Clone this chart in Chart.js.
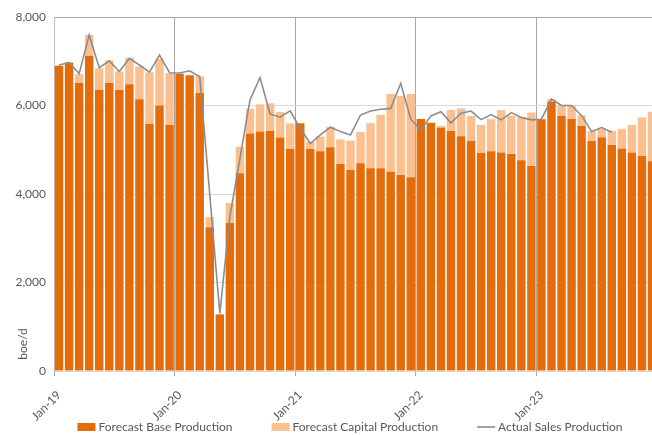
<!DOCTYPE html>
<html>
<head>
<meta charset="utf-8">
<script src="https://cdn.jsdelivr.net/npm/chart.js@4/dist/chart.umd.min.js"></script>
<style>
  html, body { margin: 0; padding: 0; background: #fff; overflow: hidden; }
  #wrap { width: 700px; height: 435px; }
</style>
</head>
<body>
<div id="wrap"><canvas id="chart" width="700" height="435"></canvas></div>
<script>
const months = [
  'Jan-19','Feb-19','Mar-19','Apr-19','May-19','Jun-19','Jul-19','Aug-19','Sep-19','Oct-19','Nov-19','Dec-19',
  'Jan-20','Feb-20','Mar-20','Apr-20','May-20','Jun-20','Jul-20','Aug-20','Sep-20','Oct-20','Nov-20','Dec-20',
  'Jan-21','Feb-21','Mar-21','Apr-21','May-21','Jun-21','Jul-21','Aug-21','Sep-21','Oct-21','Nov-21','Dec-21',
  'Jan-22','Feb-22','Mar-22','Apr-22','May-22','Jun-22','Jul-22','Aug-22','Sep-22','Oct-22','Nov-22','Dec-22',
  'Jan-23','Feb-23','Mar-23','Apr-23','May-23','Jun-23','Jul-23','Aug-23','Sep-23','Oct-23','Nov-23','Dec-23'
];

const baseProduction = [
  6900, 6970, 6510, 7125, 6350, 6510, 6350, 6480, 6140, 5580, 6000, 5560,
  6715, 6685, 6285, 3250, 1280, 3345, 4470, 5365, 5415, 5425, 5275, 5015,
  5600, 5015, 4965, 5055, 4680, 4540, 4695, 4580, 4580, 4505, 4430, 4380,
  5695, 5610, 5495, 5425, 5305, 5195, 4925, 4965, 4940, 4905, 4760, 4635,
  5690, 6085, 5770, 5695, 5535, 5200, 5285, 5110, 5030, 4940, 4860, 4740
];

const capitalProduction = [
  0, 0, 200, 470, 490, 510, 420, 600, 745, 1170, 1050, 1175,
  0, 0, 375, 225, 0, 450, 600, 560, 610, 625, 580, 580,
  0, 165, 330, 465, 555, 665, 710, 1020, 1205, 1755, 1790, 1880,
  0, 0, 45, 475, 630, 570, 635, 725, 955, 865, 985, 1205,
  0, 60, 230, 305, 245, 220, 180, 320, 435, 620, 870, 1120
];

const actualSales = [
  6915, 6970, 6720, 7595, 6855, 7010, 6770, 7065, 6915, 6755, 7140, 6740,
  6735, 6785, 6650, 3980, 1300, 3490, 4800, 6125, 6630, 5810, 5735, 5880,
  5480, 5140, 5335, 5510, 5410, 5335, 5785, 5875, 5915, 5935, 6500, 5690,
  5445, 5765, 5860, 5610, 5825, 5875, 5680, 5795, 5675, 5840, 5730, 5675,
  5690, 6145, 6000, 6000, 5770, 5410, 5500, 5395, null, null, null, null
];

const yTicks = [0, 2000, 4000, 6000, 8000];

const textColor = '#595959';
const fontFamily = 'Lato, "Liberation Sans", sans-serif';
const numberFormat = new Intl.NumberFormat('en-US');

const yAxisTitle = {
  id: 'yAxisTitle',
  afterDraw(chart) {
    const { ctx, chartArea } = chart;
    ctx.save();
    ctx.translate(23, chartArea.bottom - 27);
    ctx.rotate(-Math.PI / 2);
    ctx.font = '12px ' + fontFamily;
    ctx.fillStyle = textColor;
    ctx.textAlign = 'center';
    ctx.textBaseline = 'middle';
    ctx.fillText('boe/d', 0, 0);
    ctx.restore();
  }
};

// legend drawn by hand so it can sit below the rotated month labels
const bottomLegend = {
  id: 'bottomLegend',
  afterDraw(chart) {
    const { ctx } = chart;
    const marker = 18, gap = 3, spacing = 39;
    const y = chart.height - 8;
    ctx.save();
    ctx.font = '12px ' + fontFamily;
    ctx.textBaseline = 'middle';
    const items = chart.data.datasets.map(ds => ({
      ds,
      width: marker + gap + ctx.measureText(ds.label).width
    }));
    const total = items.reduce((sum, it) => sum + it.width, 0) + spacing * (items.length - 1);
    let x = chart.width / 2 - total / 2;
    items.forEach(({ ds, width }) => {
      if (ds.type === 'line') {
        ctx.strokeStyle = ds.borderColor;
        ctx.lineWidth = ds.borderWidth;
        ctx.beginPath();
        ctx.moveTo(x, y);
        ctx.lineTo(x + marker, y);
        ctx.stroke();
      } else {
        ctx.fillStyle = ds.backgroundColor;
        ctx.fillRect(x, y - 4, marker, 8);
      }
      ctx.fillStyle = textColor;
      ctx.fillText(ds.label, x + marker + gap, y);
      x += width + spacing;
    });
    ctx.restore();
  }
};

new Chart(document.getElementById('chart'), {
  type: 'bar',
  data: {
    labels: months,
    datasets: [
      {
        label: 'Forecast Base Production',
        data: baseProduction,
        backgroundColor: '#E46C0A',
        stack: 'forecast',
        order: 1,
        barPercentage: 0.84,
        categoryPercentage: 1,
      },
      {
        label: 'Forecast Capital Production',
        data: capitalProduction,
        backgroundColor: '#FAC08F',
        stack: 'forecast',
        order: 1,
        barPercentage: 0.84,
        categoryPercentage: 1,
      },
      {
        type: 'line',
        label: 'Actual Sales Production',
        data: actualSales,
        borderColor: '#8C8C8C',
        backgroundColor: '#8C8C8C',
        borderWidth: 1.6,
        pointRadius: 0,
        tension: 0,
        stack: 'actual',
        order: 0,
      }
    ]
  },
  options: {
    responsive: false,
    animation: false,
    layout: { padding: { top: 17, right: 43, left: 0, bottom: 14 } },
    plugins: {
      tooltip: { enabled: false },
      legend: { display: false }
    },
    scales: {
      x: {
        stacked: true,
        offset: true,
        afterFit(scale) { scale.height = 50; },
        border: { display: false },
        grid: {
          offset: true,
          tickLength: 5,
          lineWidth: 1,
          color: ctx => (ctx.index % 12 === 0 ? '#A6A6A6' : 'rgba(0,0,0,0)'),
        },
        ticks: {
          autoSkip: false,
          maxRotation: 45,
          minRotation: 45,
          padding: 12,
          color: textColor,
          font: { family: fontFamily, size: 12 },
          callback(value, index) { return index % 12 === 0 ? months[index] : ''; }
        }
      },
      y: {
        stacked: true,
        min: 0,
        max: 8000,
        afterFit(scale) { scale.width = 54; },
        afterBuildTicks(scale) { scale.ticks = yTicks.map(v => ({ value: v })); },
        border: { color: '#BFBFBF' },
        grid: {
          drawTicks: false,
          color: ctx => (ctx.tick && ctx.tick.value === 8000 ? '#A6A6A6' : '#D9D9D9'),
        },
        ticks: {
          padding: 8,
          color: textColor,
          font: { family: fontFamily, size: 12 },
          callback: value => numberFormat.format(value)
        }
      }
    }
  },
  plugins: [yAxisTitle, bottomLegend]
});
</script>
</body>
</html>
